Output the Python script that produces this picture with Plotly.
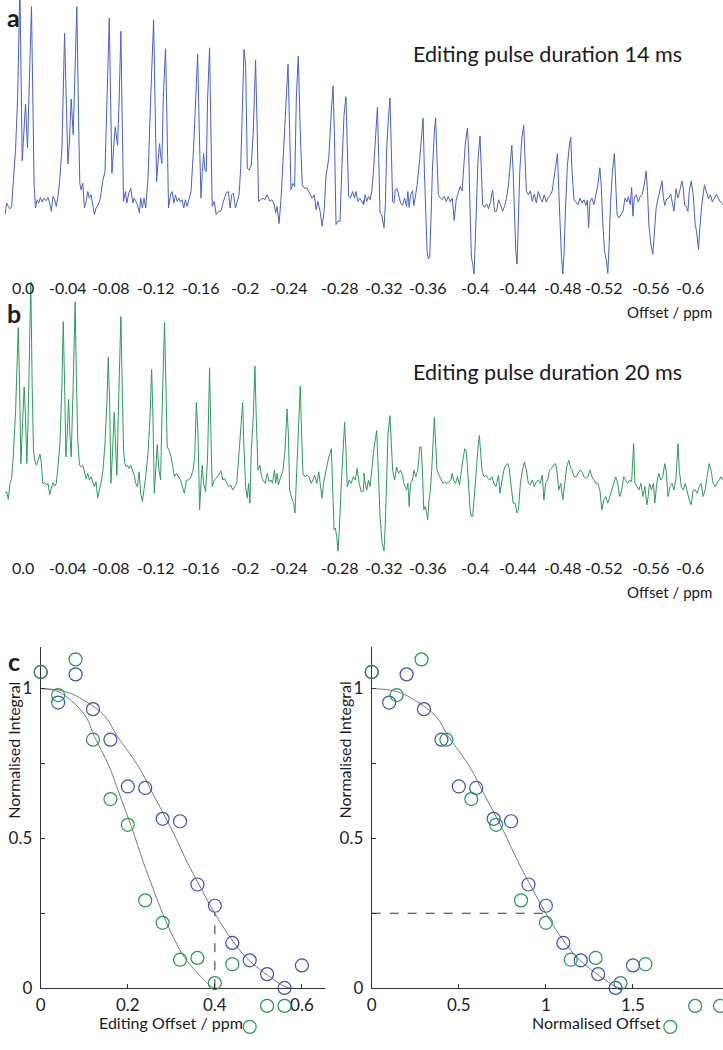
import plotly.graph_objects as go

W, H = 723, 1050

# ---------------- data ----------------
# Spectrum tick labels (ppm) and where they sit along the concatenated trace (px along trace)
spec_tick_text = ["0.0", "-0.04", "-0.08", "-0.12", "-0.16", "-0.2", "-0.24", "-0.28",
                  "-0.32", "-0.36", "-0.4", "-0.44", "-0.48", "-0.52", "-0.56", "-0.6"]
spec_tick_pos = [18, 63, 107, 152, 197, 242, 286, 337, 382, 426, 473, 517, 562, 603, 650, 690]

# Spectrum a (14 ms) – traced vertices, first half (pos*3, level) then second half
spec_a1 = [(0,650),(5,615),(10,625),(15,633),(20,625),(25,560),(32,450),(38,300),(45,-40),(52,487),
           (62,315),(68,448),(80,20),(88,560),(92,630),(97,605),(102,615),(107,598),(112,612),(118,600),
           (124,608),(130,598),(135,615),(140,640),(145,595),(150,605),(155,625),(160,595),(165,550),(172,450),
           (180,100),(185,300),(190,497),(195,420),(200,300),(206,408),(210,250),(217,20),(222,350),(226,555),
           (230,575),(235,555),(240,630),(245,610),(250,580),(255,600),(260,590),(265,620),(270,650),(275,630),
           (282,620),(288,600),(295,550),(302,520),(308,300),(315,55),(319,300),(323,525),(328,450),(333,385),
           (340,440),(345,300),(350,95),(354,400),(358,610),(364,580),(368,615),(374,585),(380,570),(386,615),
           (390,600),(395,610),(400,620),(406,645),(410,600),(415,630),(420,600),(425,630),(432,540),(440,300),
           (449,60),(453,300),(458,550),(463,480),(467,435),(470,470),(474,495),(478,300),(485,148),(490,400),
           (494,630),(500,590),(505,580),(510,615),(515,590),(520,610),(525,600),(530,612),(535,605),(540,630),
           (545,605),(550,625),(555,605),(562,580),(570,440),(582,165),(587,400),(592,600),(596,520),(600,465),
           (604,515),(608,520),(612,300),(618,145),(622,400),(626,625),(632,610),(638,650),(645,640),(652,640),
           (660,610),(668,585),(675,580),(680,630),(685,590),(690,585),(696,630),(702,610),(707,590),(712,510),
           (718,300),(722,150),(727,200),(732,510),(738,515),(744,500),(750,400),(757,182),(762,400),(766,610),
           (772,605),(780,600),(785,605),(792,590),(800,610),(806,605),(812,615),(818,645),(822,625),(828,677),
           (834,600),(840,480),(848,300),(855,195),(860,400),(864,575),(870,555),(875,565),(880,300),(886,170),
           (892,400),(898,560),(905,570),(912,570),(920,585),(928,600),(934,590),(940,635),(945,610),(952,640),
           (958,685),(964,640),(970,530),(978,480),(985,350),(991,260),(995,400),(1000,680),(1006,670),(1012,670),
           (1018,500),(1024,350),(1030,293),(1034,430),(1038,595),(1044,600),(1050,580),(1056,600),(1060,580),
           (1066,610),(1072,600),(1080,615),(1086,605)]
spec_a2 = [(0,620),(5,590),(10,610),(15,595),(20,605),(25,580),(30,520),(36,420),(42,325),(46,480),
           (50,645),(55,650),(62,690),(66,620),(70,450),(75,360),(80,297),(84,450),(88,610),(92,615),
           (96,575),(102,572),(108,600),(112,615),(118,622),(124,600),(130,625),(134,580),(138,628),(142,590),
           (148,578),(152,622),(156,600),(162,560),(170,480),(176,420),(180,358),(184,520),(188,680),(192,760),
           (196,785),(200,780),(204,660),(208,520),(214,400),(218,358),(222,480),(226,590),(232,600),(238,605),
           (244,595),(250,610),(256,595),(262,612),(268,600),(274,668),(280,605),(286,582),(292,565),(298,578),
           (302,510),(308,430),(314,388),(318,470),(322,640),(326,780),(330,800),(334,830),(338,720),(342,570),
           (346,480),(352,412),(356,540),(360,620),(366,628),(372,618),(378,632),(384,610),(390,575),(396,640),
           (402,640),(408,605),(414,620),(420,640),(426,625),(432,600),(438,560),(444,500),(448,440),(452,520),
           (456,620),(460,760),(464,800),(468,660),(472,520),(478,420),(484,380),(488,480),(492,580),(498,590),
           (504,578),(510,610),(516,588),(522,615),(528,580),(534,600),(540,612),(546,590),(552,612),(558,598),
           (564,592),(570,578),(576,530),(582,490),(586,465),(590,580),(594,690),(598,780),(602,830),(606,760),
           (610,640),(616,500),(622,440),(626,415),(630,520),(636,605),(642,612),(648,620),(654,600),(660,615),
           (666,605),(672,622),(676,606),(680,690),(684,612),(690,600),(696,620),(702,590),(708,560),(714,508),
           (718,560),(722,660),(728,760),(734,790),(738,828),(742,740),(746,620),(752,520),(758,465),(762,560),
           (766,650),(772,660),(778,648),(784,640),(790,600),(796,612),(800,595),(806,620),(810,568),(814,655),
           (818,600),(824,590),(830,612),(836,595),(842,590),(848,560),(854,518),(858,580),(862,680),(868,740),
           (874,770),(878,700),(884,630),(890,600),(896,575),(902,548),(906,600),(910,622),(916,602),(922,600),
           (928,588),(932,612),(938,640),(944,572),(950,600),(956,575),(962,548),(966,570),(970,622),(975,625),
           (980,640),(984,580),(990,548),(996,590),(1002,680),(1006,700),(1012,755),(1016,690),(1022,620),(1030,560),
           (1036,580),(1042,602),(1048,590),(1054,612),(1060,600),(1066,588),(1072,600),(1078,612),(1086,620)]

# Spectrum b (20 ms)
spec_b1 = [(0,630),(5,625),(10,648),(15,600),(20,585),(25,520),(32,380),(40,128),(44,300),(48,540),
           (53,420),(58,308),(62,400),(66,540),(70,400),(74,200),(78,-10),(82,300),(86,500),(90,530),
           (95,545),(100,530),(106,512),(110,540),(114,600),(120,598),(126,605),(130,600),(135,635),(140,615),
           (145,598),(150,608),(155,600),(160,550),(166,480),(172,300),(176,110),(180,300),(184,520),(188,450),
           (192,345),(196,450),(200,520),(206,300),(212,50),(216,300),(220,470),(225,545),(230,550),(235,545),
           (240,570),(245,585),(250,570),(255,590),(260,580),(265,595),(270,610),(275,595),(280,645),(285,620),
           (290,600),(296,560),(302,480),(308,350),(312,218),(316,350),(320,600),(325,500),(330,385),(334,480),
           (338,575),(342,400),(350,95),(354,300),(358,500),(362,540),(366,550),(370,545),(375,555),(380,545),
           (385,560),(390,575),(395,600),(400,610),(405,565),(410,630),(415,655),(420,620),(425,580),(432,510),
           (438,400),(443,255),(447,400),(451,630),(455,550),(460,482),(464,550),(470,590),(474,400),(482,112),
           (486,300),(490,490),(496,500),(502,520),(506,545),(512,580),(518,570),(524,580),(530,590),(536,610),
           (542,630),(548,590),(555,590),(562,580),(568,560),(573,520),(578,355),(583,450),(588,680),(592,600),
           (596,545),(600,600),(606,625),(612,520),(618,250),(622,450),(626,610),(632,590),(638,585),(645,575),
           (652,562),(658,590),(664,585),(670,600),(676,610),(682,605),(688,620),(694,610),(700,600),(706,520),
           (712,440),(718,355),(722,500),(727,610),(732,645),(736,600),(740,660),(744,500),(750,400),(755,245),
           (759,400),(764,560),(770,545),(775,580),(780,590),(786,600),(792,570),(798,595),(804,590),(808,600),
           (814,560),(818,600),(822,570),(826,605),(830,590),(836,570),(840,560),(846,500),(852,375),(856,450),
           (860,620),(866,645),(872,660),(876,690),(880,600),(886,420),(892,305),(896,450),(900,570),(906,580),
           (912,575),(918,580),(925,600),(930,590),(935,575),(942,600),(948,565),(952,600),(958,645),(962,600),
           (966,580),(972,560),(978,520),(986,495),(990,600),(994,740),(998,735),(1002,760),(1006,805),(1010,740),
           (1016,600),(1022,470),(1026,415),(1030,500),(1034,610),(1040,590),(1046,600),(1052,580),(1058,590),
           (1064,555),(1070,600),(1076,625),(1082,625),(1086,570)]
spec_b2 = [(0,570),(5,600),(10,620),(15,590),(20,610),(25,560),(32,490),(40,440),(44,560),(50,700),
           (56,780),(62,805),(66,720),(70,600),(74,450),(80,395),(84,500),(88,560),(94,590),(100,550),
           (106,570),(112,560),(118,575),(122,600),(126,610),(130,620),(134,600),(138,670),(142,600),(148,590),
           (152,560),(158,580),(164,560),(170,490),(174,490),(178,560),(182,680),(186,670),(190,685),(194,710),
           (198,650),(202,620),(206,560),(210,450),(214,400),(218,480),(222,560),(228,575),(234,590),(240,600),
           (246,595),(252,600),(258,595),(264,590),(268,570),(272,590),(278,600),(284,580),(290,605),(295,560),
           (300,530),(306,495),(310,500),(314,550),(318,640),(322,680),(326,700),(330,700),(334,650),(340,560),
           (346,490),(350,455),(354,500),(358,560),(364,580),(370,575),(376,585),(382,590),(388,580),(394,600),
           (400,610),(404,590),(408,575),(412,630),(418,600),(424,560),(430,545),(436,540),(440,555),(446,600),
           (452,660),(458,660),(464,690),(468,680),(474,600),(480,560),(486,535),(492,560),(498,600),(504,605),
           (510,590),(516,610),(522,595),(528,590),(534,600),(540,575),(545,650),(550,600),(556,590),(562,560),
           (568,555),(574,545),(580,540),(584,560),(590,620),(596,600),(602,650),(608,600),(614,550),(620,530),
           (626,555),(630,560),(636,580),(642,580),(648,570),(654,560),(660,565),(666,580),(672,585),(678,580),
           (684,560),(690,580),(696,590),(702,600),(708,600),(714,620),(720,680),(726,650),(732,640),(738,660),
           (744,640),(750,620),(756,600),(762,580),(768,600),(774,640),(780,620),(786,580),(792,590),(798,600),
           (804,590),(810,595),(816,480),(820,600),(826,610),(832,620),(838,600),(844,640),(850,610),(856,665),
           (860,640),(864,600),(870,620),(876,600),(880,660),(886,600),(892,570),(898,590),(904,580),(910,540),
           (914,560),(920,640),(926,610),(932,600),(938,620),(944,585),(950,480),(954,560),(960,610),(966,620),
           (972,600),(978,630),(984,650),(990,665),(996,620),(1002,620),(1008,630),(1014,610),(1020,600),(1026,640),
           (1032,620),(1038,580),(1044,540),(1050,560),(1056,600),(1062,610),(1068,600),(1074,590),(1080,580),
           (1086,590)]

# Panel c – integrals vs editing offset
offset_ppm = [0.00, 0.04, 0.08, 0.12, 0.16, 0.20, 0.24, 0.28, 0.32, 0.36, 0.40, 0.44, 0.48, 0.52, 0.56, 0.60]
integral_14ms = [1.055, 0.953, 1.047, 0.931, 0.829, 0.673, 0.668, 0.565, 0.557, 0.346, 0.275, 0.151,
                 0.093, 0.047, 0.001, 0.076]
integral_20ms = [1.055, 0.978, 1.097, 0.829, 0.631, 0.545, 0.293, 0.218, 0.095, 0.101, 0.017, 0.080,
                 -0.129, -0.059, -0.059]
# offsets that normalise each series (ppm)
norm_14ms = 0.40
norm_20ms = 0.28

# fitted profile (normalised offset -> normalised integral)
fit_x = [0.0, 0.14, 0.25, 0.37, 0.44, 0.56, 0.65, 0.75, 0.84, 0.92, 1.0, 1.09, 1.18, 1.28, 1.36, 1.41, 1.45]
fit_y = [1.0, 0.99, 0.96, 0.906, 0.84, 0.741, 0.642, 0.532, 0.422, 0.334, 0.249, 0.168, 0.102, 0.053,
         0.02, 0.003, 0.0]
half_level = 0.25

# ---------------- helpers ----------------
def px(x):
    return x / W

def py(y):
    return 1 - y / H

def trace_xy(a, b, crop_y, base_y):
    xs = [p[0] / 3 for p in a] + [361 + p[0] / 3 for p in b]
    ys = [base_y - (crop_y + p[1] / 3) for p in a] + [base_y - (crop_y + p[1] / 3) for p in b]
    return xs, ys

BLUE_LINE = "#4862c6"
GREEN_LINE = "#2f9a5e"
BLUE = "#3a4ec0"
GREEN = "#21984a"
FONT = "Lato"

fig = go.Figure()

ax, ay = trace_xy(spec_a1, spec_a2, 0, 205)
bx, by = trace_xy(spec_b1, spec_b2, 288, 488)
fig.add_trace(go.Scatter(x=ax, y=ay, mode="lines", line=dict(color=BLUE_LINE, width=1),
                         xaxis="x", yaxis="y", hoverinfo="skip"))
fig.add_trace(go.Scatter(x=bx, y=by, mode="lines", line=dict(color=GREEN_LINE, width=1),
                         xaxis="x2", yaxis="y2", hoverinfo="skip"))

n20 = len(integral_20ms)
marker14 = dict(symbol="circle-open", size=13, color=BLUE, line=dict(width=1.2))
marker20 = dict(symbol="circle-open", size=13, color=GREEN, line=dict(width=1.2))

# panel c left (fits on visible axes, markers on a same-scale overlay that also covers below zero)
for scale in (norm_14ms, norm_20ms):
    fig.add_trace(go.Scatter(x=[v * scale for v in fit_x], y=fit_y, mode="lines",
                             line=dict(color="#7a7a7a", width=1, shape="spline"),
                             xaxis="x3", yaxis="y3", hoverinfo="skip"))
fig.add_trace(go.Scatter(x=[norm_14ms, norm_14ms], y=[0, half_level], mode="lines",
                         line=dict(color="#333333", width=1, dash="dash"), xaxis="x3", yaxis="y3"))
fig.add_trace(go.Scatter(x=offset_ppm, y=integral_14ms, mode="markers", cliponaxis=False,
                         marker=marker14, xaxis="x5", yaxis="y5"))
fig.add_trace(go.Scatter(x=offset_ppm[:n20], y=integral_20ms, mode="markers", cliponaxis=False,
                         marker=marker20, xaxis="x5", yaxis="y5"))

# panel c right
fig.add_trace(go.Scatter(x=fit_x, y=fit_y, mode="lines", line=dict(color="#7a7a7a", width=1, shape="spline"),
                         xaxis="x4", yaxis="y4", hoverinfo="skip"))
fig.add_trace(go.Scatter(x=[0, 1], y=[half_level, half_level], mode="lines",
                         line=dict(color="#333333", width=1, dash="dash"), xaxis="x4", yaxis="y4"))
fig.add_trace(go.Scatter(x=[v / norm_14ms for v in offset_ppm], y=integral_14ms, mode="markers",
                         cliponaxis=False, marker=marker14, xaxis="x6", yaxis="y6"))
fig.add_trace(go.Scatter(x=[v / norm_20ms for v in offset_ppm[:n20]], y=integral_20ms, mode="markers",
                         cliponaxis=False, marker=marker20, xaxis="x6", yaxis="y6"))

hidden = dict(visible=False, showgrid=False, zeroline=False)
c_axis = dict(showline=True, linecolor="#333333", linewidth=1, ticks="inside", ticklen=4, tickcolor="#333333",
              showgrid=False, zeroline=False, tickfont=dict(family=FONT, size=17, color="#222"))

Y0, Y1 = 997.7, 653.3          # pixel rows of y=0 and top of panel-c axes
YMAX = 1.138
YMIN_EXT = -0.16
unit = (Y0 - Y1) / YMAX
ydom_c = [py(Y0), py(Y1)]
ydom_ext = [py(Y0 - YMIN_EXT * unit), py(Y1)]
xdom_l = [px(36), px(322)]
xdom_r = [px(369.3), 1]

fig.update_layout(
    width=W, height=H, margin=dict(l=0, r=0, t=0, b=0),
    paper_bgcolor="white", plot_bgcolor="rgba(0,0,0,0)", showlegend=False,
    xaxis=dict(domain=[0, 1], range=[0, W], anchor="y", **hidden),
    yaxis=dict(domain=[py(280), 1], range=[-75, 205], anchor="x", **hidden),
    xaxis2=dict(domain=[0, 1], range=[0, W], anchor="y2", **hidden),
    yaxis2=dict(domain=[py(558), py(280)], range=[-70, 208], anchor="x2", **hidden),
    xaxis3=dict(domain=xdom_l, range=[0, 0.6525], anchor="y3",
                tickvals=[0, 0.2, 0.4, 0.6], ticktext=["0", "0.2", "0.4", "0.6"], ticklabelstandoff=1, **c_axis),
    yaxis3=dict(domain=ydom_c, range=[0, YMAX], anchor="x3",
                tickvals=[0, 0.25, 0.5, 0.75, 1], ticktext=["0", "", "0.5", "", "1"], ticklabelstandoff=4, **c_axis),
    xaxis4=dict(domain=xdom_r, range=[0, 2.017], anchor="y4",
                tickvals=[0, 0.5, 1, 1.5], ticktext=["0", "0.5", "1", "1.5"], ticklabelstandoff=1, **c_axis),
    yaxis4=dict(domain=ydom_c, range=[0, YMAX], anchor="x4",
                tickvals=[0, 0.25, 0.5, 0.75, 1], ticktext=["0", "", "0.5", "", "1"], ticklabelstandoff=4, **c_axis),
    xaxis5=dict(domain=xdom_l, range=[0, 0.6525], anchor="y5", **hidden),
    yaxis5=dict(domain=ydom_ext, range=[YMIN_EXT, YMAX], anchor="x5", **hidden),
    xaxis6=dict(domain=xdom_r, range=[0, 2.017], anchor="y6", **hidden),
    yaxis6=dict(domain=ydom_ext, range=[YMIN_EXT, YMAX], anchor="x6", **hidden),
)

ann = []
def text(x, y, s, size, bold=False, xanchor="center", yanchor="middle", angle=0, xref="paper"):
    ann.append(dict(x=x, y=y, xref=xref, yref="paper", text=("<b>%s</b>" % s) if bold else s,
                    showarrow=False, xanchor=xanchor, yanchor=yanchor, textangle=angle,
                    font=dict(family=FONT, size=size, color="#1a1a1a")))

for p, t in zip(spec_tick_pos, spec_tick_text):
    text(p, py(290), t, 16, xref="x")
    text(p, py(573), t, 16, xref="x2")
text(px(714), py(315), "Offset / ppm", 15, xanchor="right")
text(px(714), py(598), "Offset / ppm", 15, xanchor="right")
text(px(684), py(55), "Editing pulse duration 14 ms", 21.5, xanchor="right")
text(px(684), py(376), "Editing pulse duration 20 ms", 21.5, xanchor="right")
text(px(0), 1, "a", 25, bold=True, xanchor="left", yanchor="top")
text(px(0), py(316), "b", 25, bold=True, xanchor="left")
text(px(1), py(667), "c", 25, bold=True, xanchor="left")
text(px(167), py(1032), "Editing Offset / ppm", 16)
text(px(596), py(1032), "Normalised Offset", 16)
text(px(9), py(757), "Normalised Integral", 16, angle=-90)
text(px(342), py(757), "Normalised Integral", 16, angle=-90)
fig.update_layout(annotations=ann)

fig.write_html(
    "out.html",
    config={"displayModeBar": False},
    post_script=("var s='margin:0;padding:0;overflow:hidden;height:%dpx;width:%dpx';"
                 "document.documentElement.style.cssText=s;document.body.style.cssText=s;"
                 "var g=document.getElementById('{plot_id}');"
                 "g.style.position='fixed';g.style.left='0px';g.style.top='0px';" % (H, W)),
)
